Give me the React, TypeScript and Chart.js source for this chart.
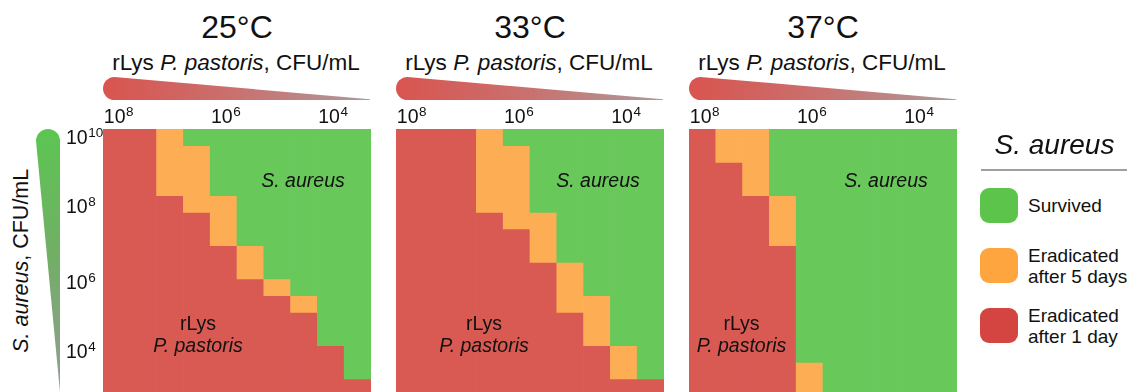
import React, { useEffect, useRef } from "react";
import { Chart, registerables } from "chart.js";

Chart.register(...registerables);

// ---------- data ----------
const temperatures = ["25°C", "33°C", "37°C"];
// rLys P. pastoris columns: log10 CFU/mL (half-log dilutions)
const rLysExponents = [8, 7.5, 7, 6.5, 6, 5.5, 5, 4.5, 4, 3.5];
const rLysTickExponents = [8, 6, 4];
// S. aureus rows (half-log dilutions from 10^10 down)
const saRowCount = 16;
const saTickExponents = [10, 8, 6, 4];
const saTickRows = [0.5, 4.6, 9.2, 13.3];

// rows (counted from the top) where S. aureus survived, per column
const survived25 = [0, 0, 0, 1, 4, 7, 9, 10, 13, 15];
const fiveDay25 = [0, 0, 4, 4, 3, 2, 1, 1, 0, 0];
const survived33 = [0, 0, 0, 0, 1, 5, 8, 10, 13, 15];
const fiveDay33 = [0, 0, 0, 5, 5, 3, 3, 3, 2, 0];
const survived37 = [0, 0, 0, 4, 14, 16, 16, 16, 16, 16];
const fiveDay37 = [0, 2, 4, 3, 2, 0, 0, 0, 0, 0];

const survivedByPanel = [survived25, survived33, survived37];
const fiveDayByPanel = [fiveDay25, fiveDay33, fiveDay37];

const legendLabels = ["Survived", "Eradicated\nafter 5 days", "Eradicated\nafter 1 day"];

// ---------- styles ----------
const FONT = '"Liberation Sans", Arial, Helvetica, sans-serif';
const GREEN = "#68c85a";
const ORANGE = "#fdae55";
const RED = "#d95a53";
const LEG_GREEN = "#5cc44a";
const LEG_ORANGE = "#ffa53f";
const LEG_RED = "#d44541";

const PANEL_LEFT = [103, 396, 689];
const PANEL_W = 268;
const CANVAS_TOP = 100;
const PAD_TOP = 29;
const GRID_H = 266.67;

function drawPower(ctx: CanvasRenderingContext2D, x: number, baseline: number, exp: number, align: string) {
  ctx.font = `19.5px ${FONT}`;
  const wb = ctx.measureText("10").width;
  ctx.font = `13.5px ${FONT}`;
  const ws = ctx.measureText(String(exp)).width;
  const start = align === "center" ? x - (wb + ws) / 2 : x;
  ctx.font = `19.5px ${FONT}`;
  ctx.fillText("10", start, baseline);
  ctx.font = `13.5px ${FONT}`;
  ctx.fillText(String(exp), start + wb + 0.5, baseline - 7);
}

const powerTicks = {
  id: "powerTicks",
  afterDraw(chart: any, _args: any, opts: any) {
    const { ctx, chartArea, scales } = chart;
    ctx.save();
    ctx.fillStyle = "#111";
    ctx.textBaseline = "alphabetic";
    ctx.textAlign = "left";
    rLysTickExponents.forEach((e) => {
      const idx = rLysExponents.indexOf(e);
      const x = scales.x.getPixelForValue(idx);
      drawPower(ctx, x + 2, chartArea.top - 6, e, "center");
    });
    if (opts && opts.showY) {
      saTickExponents.forEach((e, i) => {
        const y = scales.y.getPixelForValue(saTickRows[i]);
        drawPower(ctx, chartArea.left - 37, y + 7, e, "left");
      });
    }
    ctx.restore();
  },
};

function Panel({ index }: { index: number }) {
  const ref = useRef<HTMLCanvasElement | null>(null);
  const padL = index === 0 ? 43 : 0;
  const width = PANEL_W + padL + 6;
  const height = 296;
  useEffect(() => {
    if (!ref.current) return;
    const surv = survivedByPanel[index];
    const five = fiveDayByPanel[index];
    const chart = new Chart(ref.current, {
      type: "bar",
      data: {
        labels: rLysExponents.map((e) => `10^${e}`),
        datasets: [
          {
            label: "Survived",
            data: surv.map((s) => (s > 0 ? [0, s] : null)) as any,
            backgroundColor: GREEN,
          },
          {
            label: "Eradicated after 5 days",
            data: surv.map((s, i) => (five[i] > 0 ? [s, s + five[i]] : null)) as any,
            backgroundColor: ORANGE,
          },
          {
            label: "Eradicated after 1 day",
            data: surv.map((s, i) => (s + five[i] < saRowCount ? [s + five[i], saRowCount] : null)) as any,
            backgroundColor: RED,
          },
        ],
      },
      options: {
        animation: false,
        responsive: false,
        maintainAspectRatio: false,
        events: [],
        layout: {
          padding: { top: PAD_TOP, left: padL, right: 6, bottom: height - PAD_TOP - GRID_H },
        },
        datasets: {
          bar: {
            barPercentage: 1,
            categoryPercentage: 1,
            grouped: false,
            borderWidth: 0,
          },
        } as any,
        plugins: {
          legend: { display: false },
          tooltip: { enabled: false },
          powerTicks: { showY: index === 0 },
        } as any,
        scales: {
          x: { type: "category", display: false },
          y: { type: "linear", display: false, min: 0, max: saRowCount, reverse: true },
        },
      },
      plugins: [powerTicks as any],
    });
    return () => chart.destroy();
  }, [index]);
  return (
    <canvas
      ref={ref}
      width={width}
      height={height}
      style={{ position: "absolute", left: PANEL_LEFT[index] - padL, top: CANVAS_TOP, width, height, display: "block" }}
    />
  );
}

function Text({
  children, left, top, size, center, italic, width, lineHeight,
}: any) {
  return (
    <div
      style={{
        position: "absolute",
        left: center ? left - (width || 300) / 2 : left,
        top,
        width: center ? width || 300 : undefined,
        textAlign: center ? "center" : "left",
        fontSize: size,
        lineHeight: lineHeight ? `${lineHeight}px` : 1,
        fontStyle: italic ? "italic" : "normal",
        whiteSpace: "pre",
        color: "#111",
      }}
    >
      {children}
    </div>
  );
}

const saLabelOffset = [200, 202, 197];
const rLysLabelOffset = [95, 88, 52.5];

export default function App() {
  useEffect(() => {
    document.body.style.margin = "0";
  }, []);
  return (
    <div
      style={{
        position: "fixed",
        left: 0,
        top: 0,
        width: 1136,
        height: 392,
        overflow: "hidden",
        background: "#fff",
        fontFamily: FONT,
      }}
    >
      <svg width={1136} height={392} style={{ position: "absolute", left: 0, top: 0 }}>
        <defs>
          <linearGradient id="redWedge" x1="0" y1="0" x2="1" y2="0">
            <stop offset="0" stopColor="#d9544f" />
            <stop offset="0.5" stopColor="#c9716f" />
            <stop offset="1" stopColor="#ad9a9a" />
          </linearGradient>
          <linearGradient id="greenWedge" x1="0" y1="0" x2="0" y2="1">
            <stop offset="0" stopColor="#5cc552" />
            <stop offset="0.5" stopColor="#72ae66" />
            <stop offset="1" stopColor="#949c94" />
          </linearGradient>
        </defs>
        {PANEL_LEFT.map((pl, i) => {
          const r = 11.5;
          const cx = pl + r;
          const pr = pl + PANEL_W - 1;
          return (
            <path
              key={i}
              d={`M ${cx} 100 A ${r} ${r} 0 0 1 ${cx} ${100 - 2 * r} L ${pr} 99.3 L ${pr} 100 Z`}
              fill="url(#redWedge)"
            />
          );
        })}
        <path d="M 60 392 L 36 141 A 12 12 0 0 1 60 141 Z" fill="url(#greenWedge)" />
        <line x1={981} y1={170} x2={1127} y2={170} stroke="#7f7f7f" strokeWidth={1.5} />
        <rect x={980} y={188} width={38} height={35} rx={9} fill={LEG_GREEN} />
        <rect x={980} y={248} width={38} height={35} rx={9} fill={LEG_ORANGE} />
        <rect x={980} y={308} width={38} height={35} rx={9} fill={LEG_RED} />
      </svg>

      {PANEL_LEFT.map((_, i) => (
        <Panel key={i} index={i} />
      ))}

      {temperatures.map((t, i) => {
        const c = PANEL_LEFT[i] + PANEL_W / 2;
        return (
          <React.Fragment key={t}>
            <Text left={c} top={11} size={32} center>
              {t}
            </Text>
            <Text left={c - 1} top={52.2} size={22.5} center>
              rLys <i>P. pastoris</i>, CFU/mL
            </Text>
            <Text left={PANEL_LEFT[i] + saLabelOffset[i]} top={170.5} size={19.5} center italic width={160}>
              S. aureus
            </Text>
            <Text left={PANEL_LEFT[i] + rLysLabelOffset[i]} top={311.5} size={19.5} center width={160} lineHeight={22}>
              {"rLys\n"}
              <i>P. pastoris</i>
            </Text>
          </React.Fragment>
        );
      })}

      <div
        style={{
          position: "absolute",
          left: 22 - 150,
          top: 261 - 10.75,
          width: 300,
          height: 21.5,
          lineHeight: 1,
          fontSize: 21.5,
          textAlign: "center",
          transform: "rotate(-90deg)",
          whiteSpace: "pre",
          color: "#111",
        }}
      >
        <i>S. aureus</i>, CFU/mL
      </div>

      <Text left={1054.5} top={131.3} size={28} center italic width={200}>
        S. aureus
      </Text>
      <Text left={1028} top={196} size={19}>
        {legendLabels[0]}
      </Text>
      <Text left={1028} top={244.7} size={19} lineHeight={21.5}>
        {legendLabels[1]}
      </Text>
      <Text left={1028} top={304.7} size={19} lineHeight={21.5}>
        {legendLabels[2]}
      </Text>
    </div>
  );
}
